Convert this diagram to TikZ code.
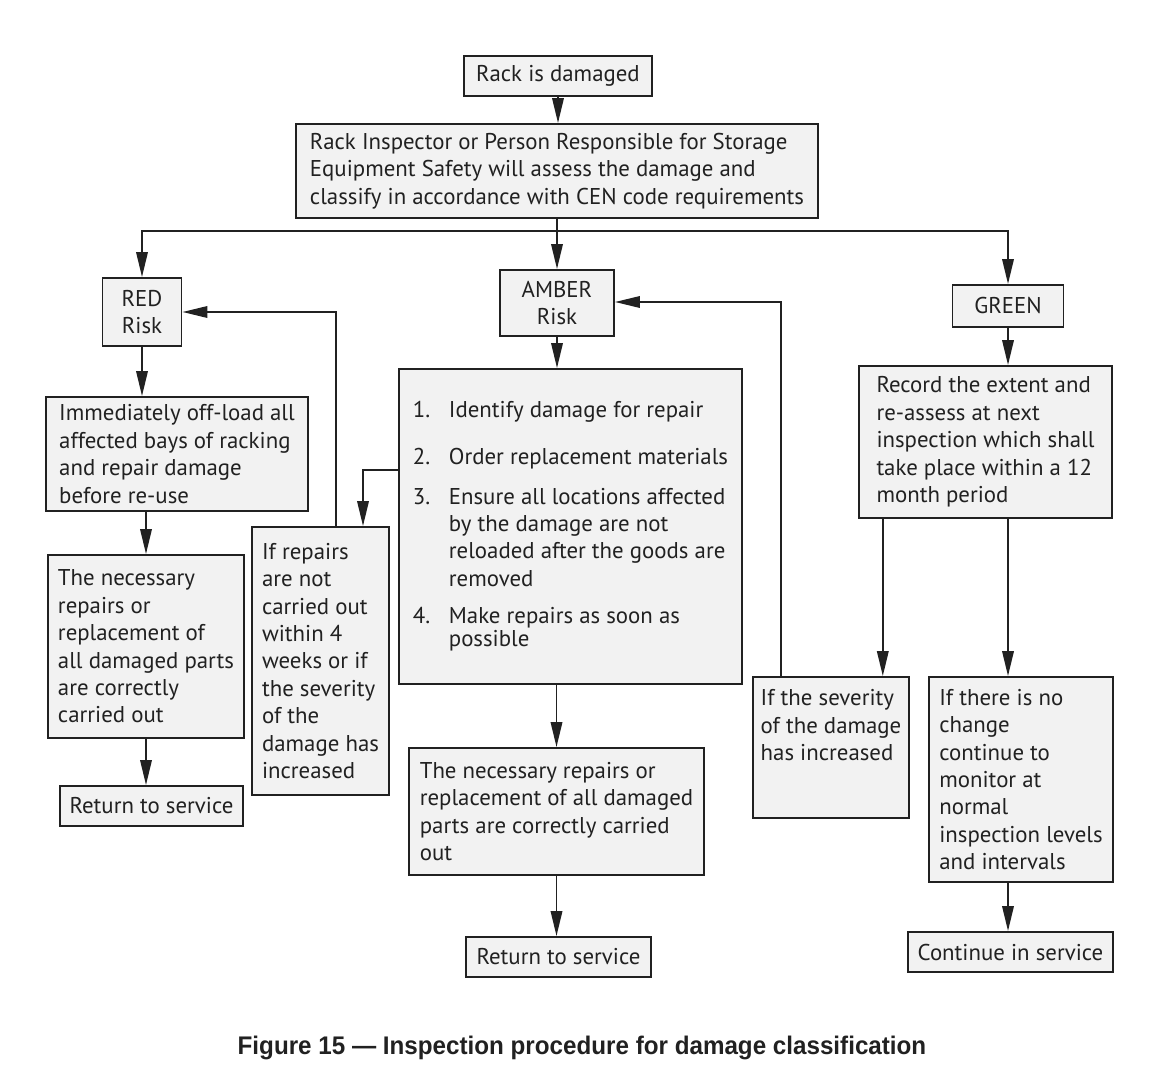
\documentclass[tikz,border=0pt]{standalone}
\usepackage{fontspec}
\setmainfont{PT Sans}
\newfontfamily\capfont[FakeStretch=0.95]{Liberation Sans}
\usetikzlibrary{arrows.meta}
\definecolor{boxfill}{gray}{0.95}
\definecolor{ink}{gray}{0.13}

\begin{document}
\begin{tikzpicture}[x=0.02cm, y=-0.02cm,
	box/.style={draw=ink, line width=1.1pt, fill=boxfill, align=left, text=ink, inner xsep=0.2cm, font=\fontsize{13}{15.6}\selectfont},
	flow/.style={draw=ink, line width=1.1pt, -{Triangle[length=0.5cm, width=0.23cm]}},
	link/.style={draw=ink, line width=1.1pt}]
	\useasboundingbox (0,0) rectangle (1173,1084);

	\node at (558,76) [box, minimum width=3.76cm, minimum height=0.8cm] (rack) {Rack is damaged};
	\node at (557,171) [box, minimum width=10.44cm, minimum height=1.88cm] (assess) {Rack Inspector or Person Responsible for Storage\\Equipment Safety will assess the damage and\\classify in accordance with CEN code requirements};
	\node at (142,312) [box, align=center, minimum width=1.58cm, minimum height=1.36cm] (red) {RED\\Risk};
	\node at (557,303) [box, align=center, minimum width=2.28cm, minimum height=1.32cm] (amber) {AMBER\\Risk};
	\node at (1008,306) [box, minimum width=2.22cm, minimum height=0.84cm] (green) {GREEN};

	\node at (177,454) [box, minimum width=5.24cm, minimum height=2.28cm] (offload) {Immediately off-load all\\affected bays of racking\\and repair damage\\before re-use};
	\node at (146,646.5) [box, minimum width=3.84cm, minimum height=3.66cm] (redrep) {The necessary\\repairs or\\replacement of\\all damaged parts\\are correctly\\carried out};
	\node at (151.5,806) [box, minimum width=3.66cm, minimum height=0.8cm] (redret) {Return to service};
	\node at (320.5,661) [box, inner xsep=0.12cm, minimum width=2.74cm, minimum height=5.36cm] (ifrep) {If repairs\\are not\\carried out\\within 4\\weeks or if\\the severity\\of the\\damage has\\increased};

	\node at (570.5,526.5) [box, minimum width=6.86cm, minimum height=6.3cm] (list) {%
		\begin{tabular}{@{}p{0.72cm}@{}l@{}}
			1. & Identify damage for repair\\[0.39cm]
			2. & Order replacement materials\\[0.25cm]
			3. & Ensure all locations affected\\
			   & by the damage are not\\
			   & reloaded after the goods are\\
			   & removed\\[0.19cm]
			4. & Make repairs as soon as\\[-0.08cm]
			   & possible
		\end{tabular}};
	\node at (556.5,811.5) [box, minimum width=5.9cm, minimum height=2.54cm] (amberrep) {The necessary repairs or\\replacement of all damaged\\parts are correctly carried\\out};
	\node at (558.5,957) [box, minimum width=3.7cm, minimum height=0.8cm] (amberret) {Return to service};

	\node at (985.5,442) [box, minimum width=5.06cm, minimum height=3.04cm] (record) {Record the extent and\\re-assess at next\\inspection which shall\\take place within a 12\\month period};
	\node at (831,747.5) [box, inner xsep=0.15cm, minimum width=3.04cm, minimum height=2.82cm] (ifsev) {If the severity\\of the damage\\has increased\\[0.35cm]\mbox{}};
	\node at (1021,779.5) [box, minimum width=3.68cm, minimum height=4.1cm] (nochange) {If there is no\\change\\continue to\\monitor at\\normal\\inspection levels\\and intervals};
	\node at (1010.5,952) [box, minimum width=4.1cm, minimum height=0.8cm] (contin) {Continue in service};

	\node at (582,1048) [text=ink, font=\capfont\bfseries\fontsize{14.5}{17}\selectfont] (caption) {Figure 15 — Inspection procedure for damage classification};

	\coordinate (split) at (557,231);
	\coordinate (fbred) at (336,312);
	\coordinate (tolist) at (363,470);
	\coordinate (fbamber) at (781,302);

	\draw [flow] (rack.south) -- (rack.south |- assess.north);
	\draw [link] (assess.south) -- (split);
	\draw [flow] (split) -- (amber.north);
	\draw [flow] (split) -| (red.north);
	\draw [flow] (split) -| (green.north);

	\draw [flow] (red.south) -- (red.south |- offload.north);
	\draw [flow] (redrep.north |- offload.south) -- (redrep.north);
	\draw [flow] (redrep.south) -- (redrep.south |- redret.north);
	\draw [flow] (ifrep.north -| fbred) -- (fbred) -- (red.east |- fbred);

	\draw [flow] (amber.south) -- (amber.south |- list.north);
	\draw [flow] (list.west |- tolist) -- (tolist) -- (tolist |- ifrep.north);
	\draw [flow] (amberrep.north |- list.south) -- (amberrep.north);
	\draw [flow] (amberrep.south) -- (amberrep.south |- amberret.north);
	\draw [flow] (ifsev.north -| fbamber) -- (fbamber) -- (amber.east |- fbamber);

	\draw [flow] (green.south) -- (green.south |- record.north);
	\draw [flow] ([xshift=-0.54cm]ifsev.north east |- record.south) -- ([xshift=-0.54cm]ifsev.north east);
	\draw [flow] (green.south |- record.south) -- (green.south |- nochange.north);
	\draw [flow] (green.south |- nochange.south) -- (green.south |- contin.north);
\end{tikzpicture}
\end{document}
